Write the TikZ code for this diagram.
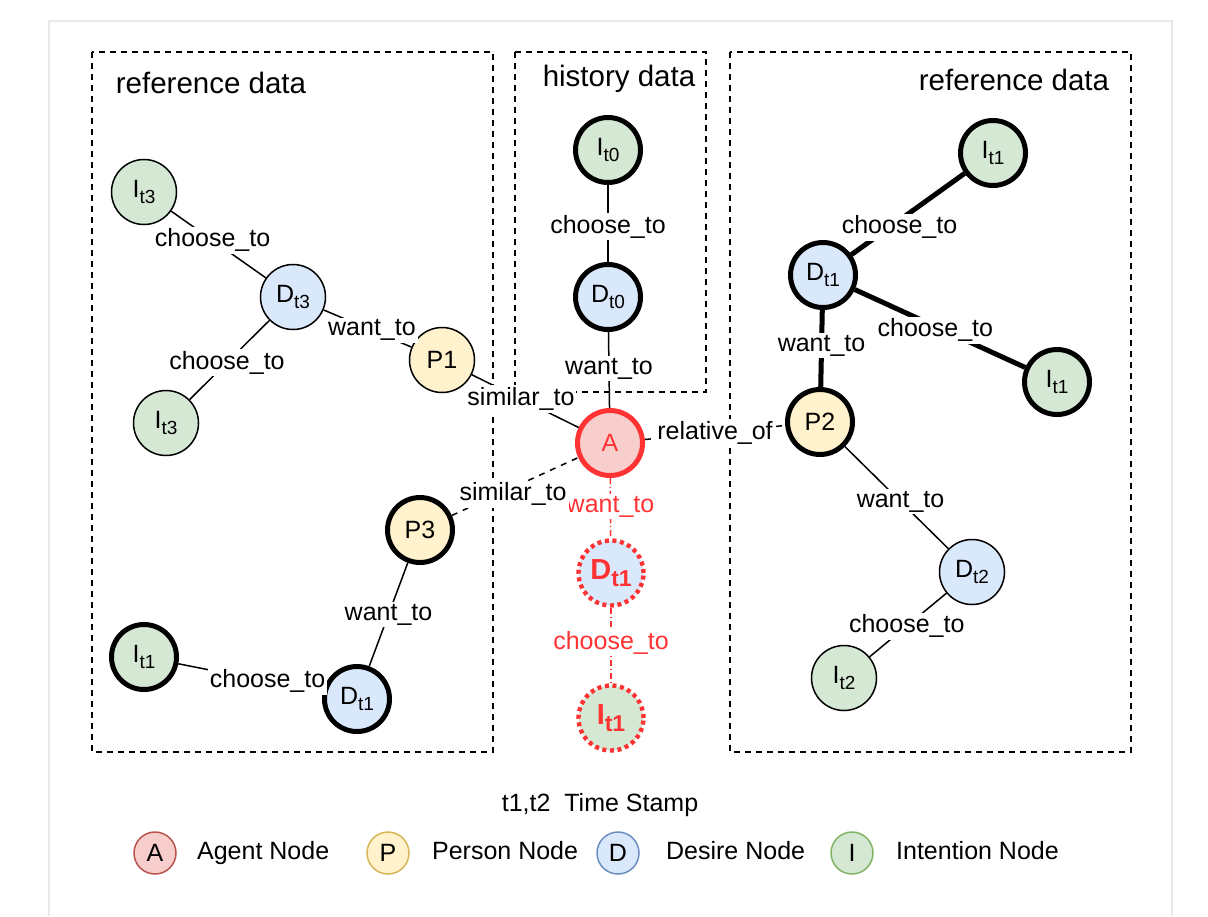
\documentclass[tikz,border=0pt]{standalone}
\usepackage{fontspec}
\setmainfont{Liberation Sans}
\usetikzlibrary{calc,positioning}

\definecolor{intentfill}{HTML}{D5E8D4}
\definecolor{intentline}{HTML}{82B366}
\definecolor{desirefill}{HTML}{DAE8FC}
\definecolor{desireline}{HTML}{6C8EBF}
\definecolor{personfill}{HTML}{FFF2CC}
\definecolor{personline}{HTML}{D6B656}
\definecolor{agentfill}{HTML}{F8CECC}
\definecolor{agentline}{HTML}{B85450}
\definecolor{alert}{HTML}{FF3333}
\definecolor{framegray}{HTML}{E8E8E8}

% time stamp subscript
\newcommand{\tstamp}[1]{\raisebox{-0.45ex}{\fontsize{9.5}{11}\selectfont #1}}
\newcommand{\tstampbig}[1]{\raisebox{-0.45ex}{\fontsize{11.5}{13}\selectfont\bfseries #1}}

\begin{document}
\begin{tikzpicture}
          [ x=0.5pt, y=-0.5pt,
            element/.style={
              circle,
              draw,
              line width=0.75pt,
              minimum size=32.5pt,
              inner sep=0pt,
              font=\fontsize{12.5}{14}\selectfont},
            intent/.style={element, fill=intentfill},
            desire/.style={element, fill=desirefill},
            person/.style={element, fill=personfill},
            strong/.style={line width=2.5pt},
            agent/.style={
              element,
              fill=agentfill,
              draw=alert,
              line width=2.5pt,
              text=alert},
            goal/.style={
              element,
              draw=alert,
              line width=2.2pt,
              dash pattern=on 2pt off 1.8pt,
              text=alert,
              font=\fontsize{14.5}{16}\selectfont\bfseries},
            link/.style={draw, line width=0.75pt},
            redlink/.style={
              draw=alert,
              line width=0.75pt,
              dash pattern=on 3pt off 1.5pt on 0.5pt off 1.5pt},
            lbl/.style={
              fill=white,
              inner sep=1pt,
              font=\fontsize{12.5}{14}\selectfont},
            region/.style={draw, line width=0.75pt, dash pattern=on 3pt off 2.5pt},
            title/.style={inner sep=0pt, font=\fontsize{14.75}{17}\selectfont},
            key/.style={
              circle,
              draw,
              line width=0.75pt,
              minimum size=21pt,
              inner sep=0pt,
              font=\fontsize{12.5}{14}\selectfont},
            keytext/.style={
              inner sep=0pt,
              text height=1.75ex,
              text depth=0.45ex,
              font=\fontsize{12.5}{14}\selectfont},
          ]

          \useasboundingbox (0,0) rectangle (1208,916);
          \draw[framegray, line width=0.6pt] (49,916) -- (49,21) -- (1172,21) -- (1172,916);

          % regions
          \draw[region] (92,52) rectangle (493,752);
          \draw[region] (515,52) rectangle (706,392);
          \draw[region] (730,52) rectangle (1131,752);
          \node[title] (refleft) at (211,83) {reference data};
          \node[title] (history) at (619,79) {history data};
          \node[title] (refright) at (1014,80) {reference data};

          % left reference data
          \node (it3a) [intent] at (144,192) {I\tstamp{t3}};
          \node (dt3) [desire] at (293,297) {D\tstamp{t3}};
          \node (it3b) [intent] at (166,423) {I\tstamp{t3}};
          \node (p1) [person] at (442,360) {P1};
          \node (p3) [person, strong] at (420,530) {P3};
          \node (dt1l) [desire, strong] at (357,699) {D\tstamp{t1}};
          \node (it1l) [intent, strong] at (144,657) {I\tstamp{t1}};

          % history data
          \node (it0) [intent, strong] at (608,150) {I\tstamp{t0}};
          \node (dt0) [desire, strong] at (608,297) {D\tstamp{t0}};

          % agent and prediction
          \node (agent) [agent] at (610,443) {A};
          \node (dt1c) [goal, fill=desirefill] at (611,573) {D\tstampbig{t1}};
          \node (it1c) [goal, fill=intentfill] at (611,718) {I\tstampbig{t1}};

          % right reference data
          \node (p2) [person, strong] at (820,422) {P2};
          \node (dt1r) [desire, strong] at (823,275) {D\tstamp{t1}};
          \node (it1a) [intent, strong] at (993,153) {I\tstamp{t1}};
          \node (it1b) [intent, strong] at (1057,382) {I\tstamp{t1}};
          \node (dt2) [desire] at (972,572) {D\tstamp{t2}};
          \node (it2) [intent] at (844,678) {I\tstamp{t2}};

          % connectors
          \draw[link] (it3a) -- (dt3);
          \draw[link] (dt3) -- (p1);
          \draw[link] (dt3) -- (it3b);
          \draw[link] (p1) -- (agent);
          \draw[link, dashed] (p3) -- (agent);
          \draw[link] (p3) -- (dt1l);
          \draw[link] (dt1l) -- (it1l);
          \draw[link] (it0) -- (dt0);
          \draw[link] (dt0) -- (agent);
          \draw[link, dashed] (agent) -- (p2);
          \draw[link, strong] (dt1r) -- (it1a);
          \draw[link, strong] (dt1r) -- (it1b);
          \draw[link, strong] (dt1r) -- (p2);
          \draw[link] (p2) -- (dt2);
          \draw[link] (dt2) -- (it2);
          \draw[redlink] (agent) -- (dt1c);
          \draw[redlink] (dt1c) -- (it1c);

          % connector labels
          \node[lbl, text=alert] at ($(agent)!0.49!(dt1c)$) {want\_to};
          \node[lbl, text=alert] at ($(dt1c)!0.48!(it1c)$) {choose\_to};
          \node[lbl] at ($(it3a)!0.46!(dt3)$) {choose\_to};
          \node[lbl] at ($(dt3)!0.53!(p1)$) {want\_to};
          \node[lbl] at ($(dt3)!0.52!(it3b)$) {choose\_to};
          \node[lbl] at ($(p1)!0.47!(agent)$) {similar\_to};
          \node[lbl, yshift=-3.5pt] at ($(p3)!0.49!(agent)$) {similar\_to};
          \node[lbl] at ($(p3)!0.50!(dt1l)$) {want\_to};
          \node[lbl] at ($(dt1l)!0.42!(it1l)$) {choose\_to};
          \node[lbl] at ($(it0)!0.52!(dt0)$) {choose\_to};
          \node[lbl] at ($(dt0)!0.49!(agent)$) {want\_to};
          \node[lbl] at ($(agent)!0.50!(p2)$) {relative\_of};
          \node[lbl, yshift=-3.5pt] at ($(dt1r)!0.45!(it1a)$) {choose\_to};
          \node[lbl, yshift=-2pt] at ($(dt1r)!0.48!(it1b)$) {choose\_to};
          \node[lbl] at ($(dt1r)!0.48!(p2)$) {want\_to};
          \node[lbl] at ($(p2)!0.53!(dt2)$) {want\_to};
          \node[lbl] at ($(dt2)!0.51!(it2)$) {choose\_to};

          % legend
          \node[keytext] (stamp) at (600,805) {t1,t2\ \ Time Stamp};
          \node (keyA) [key, fill=agentfill, draw=agentline] at (155,853) {A};
          \node[keytext, right=10pt of keyA] {Agent Node};
          \node (keyP) [key, fill=personfill, draw=personline] at (388,853) {P};
          \node[keytext, right=11pt of keyP] {Person Node};
          \node (keyD) [key, fill=desirefill, draw=desireline] at (618,853) {D};
          \node[keytext, right=13pt of keyD] {Desire Node};
          \node (keyI) [key, fill=intentfill, draw=intentline] at (852,853) {I};
          \node[keytext, right=11pt of keyI] {Intention Node};

        \end{tikzpicture}
\end{document}
